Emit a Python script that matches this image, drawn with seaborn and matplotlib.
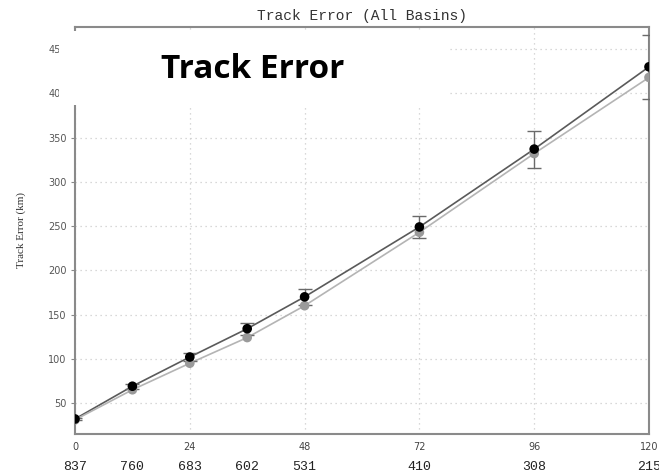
import matplotlib
matplotlib.use("Agg")
import matplotlib.pyplot as plt
import matplotlib.transforms as mtransforms
from matplotlib.patches import Rectangle
import numpy as np
import pandas as pd
import seaborn as sns

# Forecast lead times (h) and number of verifying cases
lead_hours = [0, 12, 24, 36, 48, 72, 96, 120]
case_counts = ["837", "760", "683", "602", "531", "410", "308", "215"]

# Mean track errors (km)
model_a = [32, 69, 102, 134, 170, 249, 337, 430]
model_b = [31, 65, 95, 124, 160, 243, 332, 418]
# 95% confidence half-width for model_a (km)
model_a_ci = [1.5, 3, 5, 7, 9, 12, 21, 36]

x_ticks = [0, 24, 48, 72, 96, 120]
y_ticks = [50, 100, 150, 200, 250, 300, 350, 400, 450]

df = pd.DataFrame({
    "lead": lead_hours * 2,
    "error": model_a + model_b,
    "model": ["A"] * len(lead_hours) + ["B"] * len(lead_hours),
})

sns.set_theme(style="white")
plt.rcParams["font.family"] = ["DejaVu Sans"]

fig = plt.figure(figsize=(6.59, 4.75), dpi=100)
ax = fig.add_axes([75 / 659, 41 / 475, 574 / 659, 407 / 475])

line_colors = {"A": "#5a5a5a", "B": "#b4b4b4"}
marker_colors = {"A": "#000000", "B": "#9a9a9a"}

sns.lineplot(data=df, x="lead", y="error", hue="model", palette=line_colors,
             ax=ax, legend=False, linewidth=1.2, zorder=3)

ax.errorbar(lead_hours, model_a, yerr=model_a_ci, fmt="none", ecolor="#6a6a6a",
            elinewidth=1.0, capsize=5, capthick=1.0, zorder=4)

for name, vals in (("B", model_b), ("A", model_a)):
    sns.scatterplot(x=lead_hours, y=vals, ax=ax, color=marker_colors[name],
                    s=48, edgecolor="none", zorder=5, legend=False)

ax.set_xlim(0, 120)
ax.set_ylim(15, 475)
ax.set_xticks(x_ticks)
ax.set_yticks(y_ticks)
ax.set_xticklabels([str(t) for t in x_ticks], fontsize=7, color="#444444")
ax.set_yticklabels([str(t) for t in y_ticks], fontsize=7, color="#555555")
ax.tick_params(axis="both", length=3, width=0.8, color="#888888", pad=3,
               left=True, bottom=False)
ax.set_xlabel("")
ax.set_ylabel("Track Error (km)", fontsize=8, family="Liberation Serif",
              color="#333333", labelpad=16)

ax.grid(True, linestyle=(0, (1, 3)), color="#cccccc", linewidth=0.9)
for sp in ax.spines.values():
    sp.set_color("#8a8a8a")
    sp.set_linewidth(1.5)

ax.set_title("Track Error (All Basins)", fontsize=10.5, family="Liberation Mono",
             color="#333333", pad=5)

# Row of case counts under the lead-time labels
trans = mtransforms.blended_transform_factory(ax.transData, ax.transAxes)
for h, n in zip(lead_hours, case_counts):
    ax.text(h, -0.081, n, transform=trans, ha="center", va="center",
            fontsize=9.5, family="Liberation Mono", color="#222222", clip_on=False)

# Slide caption box over the upper-left of the chart
fig.patches.append(Rectangle((59 / 659, 1 - 105 / 475), 391 / 659, 74 / 475,
                             transform=fig.transFigure, facecolor="white",
                             edgecolor="none", zorder=10))
fig.text(253 / 659, 1 - 69 / 475, "Track Error", fontsize=24, fontweight="bold",
         family="Open Sans", ha="center", va="center", color="black", zorder=11)

fig.savefig("out.png", dpi=100)
